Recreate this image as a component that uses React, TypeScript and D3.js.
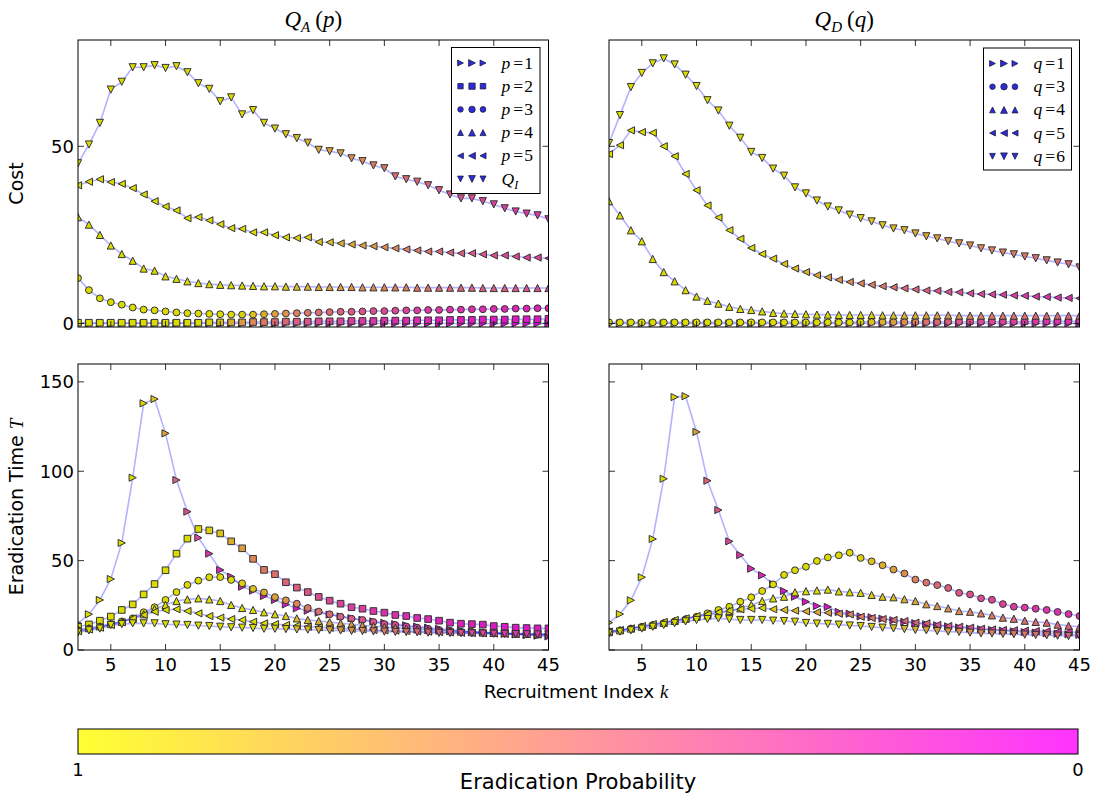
import React from "react";
import * as d3 from "d3";

// ---------- data ----------
const K = [2, 3, 4, 5, 6, 7, 8, 9, 10, 11, 12, 13, 14, 15, 16, 17, 18, 19, 20, 21, 22, 23, 24, 25, 26, 27, 28, 29, 30, 31, 32, 33, 34, 35, 36, 37, 38, 39, 40, 41, 42, 43, 44, 45];
const X_TICKS = [5, 10, 15, 20, 25, 30, 35, 40, 45];
const COST_TICKS = [0, 50];
const TIME_TICKS = [0, 50, 100, 150];

// Q_A(p) cost
const costP1 = [0, 0, 0, 0, 0, 0, 0, 0, 0, 0, 0, 0, 0, 0, 0, 0, 0, 0, 0, 0, 0, 0, 0, 0, 0, 0, 0, 0, 0, 0, 0, 0, 0, 0, 0, 0, 0, 0, 0, 0, 0, 0, 0, 0];
const costP2 = [0.2, 0.2, 0.2, 0.2, 0.2, 0.2, 0.2, 0.2, 0.2, 0.2, 0.2, 0.2, 0.3, 0.3, 0.3, 0.3, 0.4, 0.4, 0.4, 0.5, 0.5, 0.5, 0.6, 0.6, 0.6, 0.7, 0.7, 0.7, 0.8, 0.8, 0.8, 0.9, 0.9, 0.9, 1.0, 1.0, 1.0, 1.1, 1.1, 1.1, 1.2, 1.2, 1.2, 1.3];
const costP3 = [12.8, 9.4, 7.1, 6.0, 5.3, 4.5, 3.9, 3.7, 3.4, 3.1, 2.9, 2.8, 2.7, 2.6, 2.5, 2.5, 2.5, 2.6, 2.7, 2.8, 2.9, 3.0, 3.1, 3.2, 3.3, 3.3, 3.4, 3.5, 3.5, 3.6, 3.7, 3.7, 3.8, 3.8, 3.9, 3.9, 4.0, 4.0, 4.1, 4.1, 4.2, 4.2, 4.3, 4.3];
const costP4 = [30.0, 27.9, 25.0, 22.0, 19.6, 17.7, 15.5, 14.9, 13.3, 12.6, 11.9, 11.4, 11.1, 10.9, 10.8, 10.7, 10.6, 10.5, 10.5, 10.4, 10.4, 10.4, 10.3, 10.3, 10.3, 10.3, 10.2, 10.2, 10.2, 10.2, 10.2, 10.1, 10.1, 10.1, 10.1, 10.1, 10.1, 10.0, 10.0, 10.0, 10.0, 10.0, 10.0, 10.0];
const costP5 = [39.0, 40.0, 40.7, 39.9, 39.4, 38.2, 36.4, 34.5, 33.0, 31.9, 29.7, 30.0, 29.1, 28.0, 26.9, 26.7, 25.7, 25.7, 24.9, 24.3, 24.1, 24.3, 23.0, 22.9, 22.6, 22.3, 22.0, 21.8, 21.5, 21.2, 20.9, 20.6, 20.3, 20.3, 20.0, 19.8, 19.8, 19.5, 19.2, 19.2, 18.9, 18.6, 18.6, 18.4];
const costQI = [45.2, 50.5, 56.6, 66.0, 68.2, 72.3, 72.3, 72.9, 72.1, 72.6, 70.9, 67.8, 66.2, 62.7, 63.8, 59.0, 60.2, 56.6, 55.0, 53.4, 52.3, 51.0, 49.0, 48.6, 48.0, 46.6, 45.8, 44.6, 43.8, 41.5, 40.7, 40.0, 39.0, 37.6, 36.4, 35.3, 35.3, 34.5, 33.6, 32.5, 31.6, 31.0, 30.5, 29.4];

// Q_D(q) cost
const costQ1 = [0, 0, 0, 0, 0, 0, 0, 0, 0, 0, 0, 0, 0, 0, 0, 0, 0, 0, 0, 0, 0, 0, 0, 0, 0, 0, 0, 0, 0, 0, 0, 0, 0, 0, 0, 0, 0, 0, 0, 0, 0, 0, 0, 0];
const costQ3 = [0.3, 0.3, 0.3, 0.3, 0.3, 0.3, 0.3, 0.3, 0.3, 0.3, 0.3, 0.3, 0.3, 0.3, 0.3, 0.3, 0.3, 0.3, 0.3, 0.3, 0.3, 0.3, 0.3, 0.4, 0.4, 0.4, 0.4, 0.4, 0.4, 0.4, 0.4, 0.5, 0.5, 0.5, 0.5, 0.5, 0.5, 0.5, 0.5, 0.6, 0.6, 0.6, 0.6, 0.6];
const costQ4 = [34.5, 30.5, 26.3, 23.2, 18.2, 14.5, 11.9, 9.4, 7.6, 6.4, 5.6, 4.7, 4.1, 3.8, 3.4, 3.0, 2.8, 2.7, 2.6, 2.5, 2.5, 2.4, 2.4, 2.4, 2.4, 2.3, 2.3, 2.3, 2.3, 2.3, 2.3, 2.3, 2.2, 2.2, 2.2, 2.2, 2.2, 2.2, 2.2, 2.2, 2.2, 2.2, 2.2, 2.2];
const costQ5 = [47.8, 50.3, 54.5, 54.0, 53.8, 50.0, 47.2, 42.2, 37.6, 33.3, 29.9, 26.3, 23.9, 21.3, 19.6, 18.3, 16.8, 15.5, 14.5, 13.6, 13.0, 12.3, 11.7, 11.3, 10.9, 10.5, 10.2, 9.9, 9.6, 9.3, 9.2, 8.9, 8.8, 8.5, 8.3, 8.2, 8.1, 7.9, 7.8, 7.6, 7.5, 7.3, 7.2, 7.1];
const costQ6 = [50.9, 58.8, 66.7, 70.7, 73.4, 74.8, 73.1, 70.2, 67.0, 63.0, 60.1, 55.8, 52.4, 48.4, 46.7, 43.7, 41.7, 38.4, 36.7, 34.7, 33.0, 31.9, 30.7, 29.7, 28.8, 27.7, 26.8, 26.3, 25.4, 24.6, 24.0, 23.2, 22.6, 22.0, 21.2, 20.6, 20.0, 19.5, 18.9, 18.4, 17.8, 17.2, 16.7, 15.8];

// Q_A(p) eradication time
const timeP1 = [14.9, 20.0, 28.0, 39.7, 59.9, 96.4, 138.0, 140.4, 121.2, 95.1, 77.4, 62.8, 53.9, 44.8, 41.0, 35.4, 33.2, 30.2, 28.0, 25.5, 23.3, 22.0, 20.9, 19.8, 18.8, 17.8, 16.9, 16.0, 15.2, 14.5, 13.8, 13.1, 12.5, 11.9, 11.3, 10.8, 10.3, 9.9, 9.5, 9.1, 8.7, 8.3, 8.0, 7.6];
const timeP2 = [13.0, 14.3, 16.4, 18.7, 22.4, 25.5, 31.1, 36.9, 44.6, 53.9, 62.3, 67.7, 66.9, 65.2, 60.8, 56.9, 51.0, 44.8, 42.4, 37.9, 34.9, 32.4, 29.7, 27.6, 25.9, 23.9, 23.1, 21.8, 20.9, 19.6, 19.0, 17.9, 17.3, 16.4, 15.3, 14.7, 14.5, 14.2, 13.4, 13.0, 12.5, 12.3, 12.1, 12.1];
const timeP3 = [11.0, 12.0, 13.0, 14.5, 16.0, 17.7, 21.1, 23.9, 28.0, 32.4, 36.4, 38.8, 40.7, 40.8, 39.2, 37.3, 34.2, 32.2, 29.6, 27.8, 25.9, 23.5, 21.5, 20.0, 18.6, 17.5, 16.8, 15.7, 14.5, 14.0, 13.2, 12.5, 11.9, 11.2, 10.8, 10.3, 10.1, 9.7, 9.5, 9.3, 9.0, 8.8, 8.6, 8.6];
const timeP4 = [11.3, 12.2, 13.2, 14.5, 15.8, 17.5, 20.0, 22.9, 25.2, 27.4, 28.3, 28.9, 28.3, 27.4, 25.2, 23.5, 22.4, 21.1, 20.0, 19.0, 17.7, 16.8, 16.2, 15.6, 15.0, 14.4, 13.8, 13.3, 12.8, 12.4, 12.0, 11.6, 11.2, 10.9, 10.6, 10.3, 10.0, 9.8, 9.6, 9.4, 9.2, 9.0, 8.9, 8.8];
const timeP5 = [10.5, 11.5, 12.5, 14.0, 15.5, 17.7, 19.6, 21.4, 22.4, 22.8, 21.8, 20.5, 19.0, 18.1, 17.3, 16.8, 15.8, 14.9, 14.5, 14.0, 13.6, 13.0, 12.7, 12.4, 12.1, 11.8, 11.5, 11.2, 11.0, 10.8, 10.6, 10.4, 10.2, 10.0, 9.8, 9.6, 9.5, 9.3, 9.2, 9.0, 8.9, 8.8, 8.7, 8.6];
const timeQI = [10.0, 11.0, 12.0, 14.0, 14.5, 14.9, 14.9, 14.9, 14.4, 14.2, 14.0, 13.6, 13.4, 13.0, 12.7, 12.5, 12.3, 11.9, 11.9, 11.7, 11.5, 11.4, 11.2, 11.0, 10.9, 10.7, 10.6, 10.4, 10.3, 10.1, 10.0, 9.9, 9.7, 9.6, 9.5, 9.4, 9.3, 9.2, 9.1, 9.0, 8.9, 8.8, 8.7, 8.6];

// Q_D(q) eradication time
const timeQ1 = [15.3, 20.1, 27.8, 40.7, 62.1, 95.8, 141.5, 142.0, 122.0, 94.7, 78.3, 60.8, 53.1, 45.5, 41.8, 36.9, 33.0, 29.8, 27.0, 24.6, 24.1, 21.3, 20.3, 18.8, 18.3, 17.5, 16.6, 15.8, 15.0, 14.4, 13.8, 13.2, 12.6, 12.0, 11.6, 11.2, 10.8, 10.4, 10.0, 9.7, 9.4, 9.1, 8.8, 8.5];
const timeQ3 = [10.5, 11.0, 12.0, 13.0, 14.0, 15.0, 16.0, 17.2, 18.6, 20.5, 22.4, 24.2, 27.0, 29.5, 33.0, 36.7, 42.0, 44.6, 46.6, 49.8, 51.8, 53.0, 54.4, 51.5, 49.6, 47.4, 45.0, 42.8, 39.4, 37.7, 36.3, 34.7, 32.0, 31.1, 28.9, 28.1, 25.7, 24.2, 23.7, 23.1, 22.4, 21.3, 20.1, 19.0];
const timeQ4 = [10.0, 11.0, 12.0, 13.0, 14.0, 15.2, 16.3, 17.5, 18.6, 19.4, 20.5, 21.8, 23.3, 25.2, 27.4, 28.9, 29.8, 32.3, 32.9, 33.3, 33.8, 32.8, 32.3, 32.0, 30.8, 29.8, 29.5, 28.4, 27.4, 25.6, 24.6, 23.3, 21.8, 21.4, 20.5, 19.4, 18.1, 17.5, 16.4, 15.7, 15.3, 14.2, 13.6, 13.0];
const timeQ5 = [10.3, 11.2, 12.1, 13.4, 14.5, 15.7, 16.8, 17.7, 19.0, 20.0, 21.1, 22.0, 22.8, 23.1, 23.5, 22.8, 22.4, 22.0, 21.6, 21.1, 20.8, 20.3, 19.9, 18.6, 17.9, 17.3, 16.8, 16.2, 15.3, 14.9, 14.0, 13.4, 13.0, 12.5, 11.9, 11.5, 11.2, 11.0, 10.8, 10.6, 10.4, 10.2, 10.0, 9.9];
const timeQ6 = [9.5, 10.3, 11.0, 12.0, 13.0, 14.0, 15.0, 16.0, 16.8, 17.3, 17.7, 17.2, 16.8, 16.8, 16.8, 16.4, 16.2, 15.8, 15.1, 14.8, 14.6, 14.2, 13.7, 13.4, 12.9, 12.5, 12.1, 11.7, 11.2, 11.0, 10.6, 10.3, 10.1, 9.7, 9.3, 9.2, 9.0, 8.8, 8.6, 8.4, 8.2, 8.0, 7.8, 7.8];

// eradication probability (marker colour)
const probP1 = [1, 1, 1, 1, 1, 1, 0.97, 0.9, 0.75, 0.45, 0.38, 0.32, 0.24, 0.18, 0.15, 0.12, 0.1, 0.09, 0.08, 0.08, 0.07, 0.07, 0.06, 0.06, 0.06, 0.05, 0.05, 0.05, 0.05, 0.04, 0.04, 0.04, 0.04, 0.04, 0.03, 0.03, 0.03, 0.03, 0.03, 0.03, 0.02, 0.02, 0.02, 0.02];
const probP2 = [1, 1, 1, 1, 1, 1, 1, 1, 1, 1, 1, 1, 0.95, 0.88, 0.78, 0.7, 0.62, 0.55, 0.5, 0.46, 0.42, 0.38, 0.35, 0.32, 0.3, 0.28, 0.26, 0.24, 0.22, 0.21, 0.2, 0.19, 0.18, 0.17, 0.16, 0.15, 0.14, 0.13, 0.12, 0.12, 0.11, 0.1, 0.1, 0.09];
const probP3 = [1, 1, 1, 1, 1, 1, 1, 1, 1, 1, 1, 1, 1, 1, 1, 0.95, 0.88, 0.8, 0.73, 0.67, 0.6, 0.55, 0.5, 0.47, 0.44, 0.41, 0.38, 0.36, 0.34, 0.32, 0.3, 0.28, 0.27, 0.26, 0.24, 0.23, 0.22, 0.21, 0.2, 0.19, 0.18, 0.17, 0.16, 0.15];
const probP4 = [1, 1, 1, 1, 1, 1, 1, 1, 1, 1, 1, 1, 1, 1, 1, 1, 1, 1, 0.95, 0.9, 0.86, 0.82, 0.78, 0.75, 0.72, 0.69, 0.66, 0.63, 0.6, 0.58, 0.56, 0.54, 0.52, 0.5, 0.48, 0.46, 0.45, 0.43, 0.42, 0.4, 0.39, 0.37, 0.36, 0.35];
const probP5 = [1, 1, 1, 1, 1, 1, 1, 1, 1, 1, 1, 1, 1, 1, 1, 1, 1, 1, 1, 1, 0.97, 0.94, 0.9, 0.86, 0.82, 0.78, 0.74, 0.7, 0.66, 0.62, 0.58, 0.55, 0.52, 0.49, 0.46, 0.43, 0.41, 0.39, 0.37, 0.35, 0.33, 0.31, 0.3, 0.28];
const probQI = [1, 1, 1, 1, 1, 1, 1, 1, 1, 1, 1, 1, 1, 1, 1, 1, 1, 0.97, 0.94, 0.9, 0.86, 0.82, 0.78, 0.74, 0.7, 0.66, 0.62, 0.58, 0.55, 0.52, 0.49, 0.46, 0.43, 0.4, 0.38, 0.36, 0.34, 0.32, 0.3, 0.28, 0.27, 0.26, 0.24, 0.23];
const probQ1 = probP1;
const probQ3 = [1, 1, 1, 1, 1, 1, 1, 1, 1, 1, 1, 1, 1, 1, 1, 1, 1, 1, 1, 1, 1, 1, 1, 0.95, 0.88, 0.8, 0.72, 0.65, 0.58, 0.52, 0.47, 0.43, 0.4, 0.37, 0.34, 0.32, 0.3, 0.28, 0.26, 0.25, 0.24, 0.23, 0.22, 0.21];
const probQ4 = [1, 1, 1, 1, 1, 1, 1, 1, 1, 1, 1, 1, 1, 1, 1, 1, 1, 1, 1, 1, 1, 1, 1, 0.97, 0.93, 0.89, 0.85, 0.81, 0.77, 0.73, 0.7, 0.67, 0.64, 0.61, 0.58, 0.56, 0.54, 0.52, 0.5, 0.48, 0.47, 0.46, 0.45, 0.44];
const probQ5 = [1, 1, 1, 1, 1, 1, 1, 1, 1, 1, 1, 1, 1, 1, 1, 0.95, 0.9, 0.85, 0.8, 0.76, 0.72, 0.68, 0.64, 0.6, 0.57, 0.54, 0.51, 0.48, 0.45, 0.42, 0.4, 0.38, 0.36, 0.34, 0.32, 0.3, 0.28, 0.27, 0.26, 0.25, 0.24, 0.23, 0.22, 0.21];
const probQ6 = [1, 1, 1, 1, 1, 1, 1, 1, 1, 1, 1, 1, 1, 1, 1, 1, 1, 1, 1, 1, 1, 1, 0.97, 0.94, 0.91, 0.88, 0.85, 0.82, 0.79, 0.76, 0.73, 0.7, 0.67, 0.65, 0.62, 0.6, 0.58, 0.56, 0.54, 0.52, 0.5, 0.48, 0.46, 0.44];

type Marker = ">" | "s" | "o" | "^" | "<" | "v";
type S = { key: string; marker: Marker; sym: string; val: string; cost: number[]; time: number[]; prob: number[] };

const seriesA: S[] = [
  { key: "p1", marker: ">", sym: "p", val: "1", cost: costP1, time: timeP1, prob: probP1 },
  { key: "p2", marker: "s", sym: "p", val: "2", cost: costP2, time: timeP2, prob: probP2 },
  { key: "p3", marker: "o", sym: "p", val: "3", cost: costP3, time: timeP3, prob: probP3 },
  { key: "p4", marker: "^", sym: "p", val: "4", cost: costP4, time: timeP4, prob: probP4 },
  { key: "p5", marker: "<", sym: "p", val: "5", cost: costP5, time: timeP5, prob: probP5 },
  { key: "QI", marker: "v", sym: "Q", val: "", cost: costQI, time: timeQI, prob: probQI },
];
const seriesD: S[] = [
  { key: "q1", marker: ">", sym: "q", val: "1", cost: costQ1, time: timeQ1, prob: probQ1 },
  { key: "q3", marker: "o", sym: "q", val: "3", cost: costQ3, time: timeQ3, prob: probQ3 },
  { key: "q4", marker: "^", sym: "q", val: "4", cost: costQ4, time: timeQ4, prob: probQ4 },
  { key: "q5", marker: "<", sym: "q", val: "5", cost: costQ5, time: timeQ5, prob: probQ5 },
  { key: "q6", marker: "v", sym: "q", val: "6", cost: costQ6, time: timeQ6, prob: probQ6 },
];

// ---------- helpers ----------
const spring = (p: number) => `rgb(255,${Math.round(255 * p)},${Math.round(255 * (1 - p))})`;
const springMuted = (p: number) => {
  const f = 0.86;
  return `rgb(${Math.round(255 * f)},${Math.round(255 * p * f)},${Math.round(255 * (1 - p) * f)})`;
};
const FONT = "'DejaVu Sans', sans-serif";
const SERIF = "'Liberation Serif', 'DejaVu Serif', serif";

function markerPath(m: Marker, x: number, y: number, h: number): string {
  switch (m) {
    case "^": return `M${x},${y - h}L${x - h},${y + h}L${x + h},${y + h}Z`;
    case "v": return `M${x},${y + h}L${x - h},${y - h}L${x + h},${y - h}Z`;
    case ">": return `M${x + h},${y}L${x - h},${y - h}L${x - h},${y + h}Z`;
    case "<": return `M${x - h},${y}L${x + h},${y - h}L${x + h},${y + h}Z`;
    case "s": { const s = h * 0.92; return `M${x - s},${y - s}H${x + s}V${y + s}H${x - s}Z`; }
    case "o": { const r = h * 0.95; return `M${x - r},${y}a${r},${r} 0 1,0 ${2 * r},0a${r},${r} 0 1,0 ${-2 * r},0Z`; }
  }
}

const LX = [78, 548.5];
const RX = [609, 1079.5];
const TY = [40, 327];
const BY = [364, 650];

type PanelProps = {
  id: string; xr: number[]; yr: number[]; domain: [number, number]; yTicks: number[];
  series: S[]; field: "cost" | "time"; showX: boolean; showY: boolean;
};

function Panel({ id, xr, yr, domain, yTicks, series, field, showX, showY }: PanelProps) {
  const x = d3.scaleLinear().domain([2, 45]).range(xr);
  const y = d3.scaleLinear().domain(domain).range([yr[1], yr[0]]);
  const line = d3.line<number>().x((_, i) => x(K[i])).y((d) => y(d));
  const tl = 6;
  return (
    <g>
      <defs>
        <clipPath id={id}><rect x={xr[0]} y={yr[0]} width={xr[1] - xr[0]} height={yr[1] - yr[0]} /></clipPath>
      </defs>
      <g clipPath={`url(#${id})`}>
        {series.map((s) => (
          <path key={s.key} d={line(s[field]) || ""} fill="none" stroke="rgb(0,0,255)" strokeOpacity={0.3} strokeWidth={1.6} />
        ))}
        {series.map((s) => (
          <g key={s.key + "m"}>
            {s[field].map((v, i) => (
              <path key={i} d={markerPath(s.marker, x(K[i]), y(v), 3.6)} fill={springMuted(s.prob[i])} stroke="#333" strokeWidth={1} />
            ))}
          </g>
        ))}
      </g>
      {X_TICKS.map((t) => (
        <g key={"xt" + t}>
          <line x1={x(t)} x2={x(t)} y1={yr[1]} y2={yr[1] - tl} stroke="#000" strokeWidth={0.8} />
          <line x1={x(t)} x2={x(t)} y1={yr[0]} y2={yr[0] + tl} stroke="#000" strokeWidth={0.8} />
          {showX && (
            <text x={x(t)} y={yr[1] + 21} textAnchor="middle" fontFamily={FONT} fontSize={18}>{t}</text>
          )}
        </g>
      ))}
      {yTicks.map((t) => (
        <g key={"yt" + t}>
          <line x1={xr[0]} x2={xr[0] + tl} y1={y(t)} y2={y(t)} stroke="#000" strokeWidth={0.8} />
          <line x1={xr[1]} x2={xr[1] - tl} y1={y(t)} y2={y(t)} stroke="#000" strokeWidth={0.8} />
          {showY && (
            <text x={xr[0] - 4} y={y(t)} dy="0.36em" textAnchor="end" fontFamily={FONT} fontSize={18}>{t}</text>
          )}
        </g>
      ))}
      <rect x={xr[0]} y={yr[0]} width={xr[1] - xr[0]} height={yr[1] - yr[0]} fill="none" stroke="#000" strokeWidth={1} />
    </g>
  );
}

function Legend({ x0, y0, w, h, series }: { x0: number; y0: number; w: number; h: number; series: S[] }) {
  const step = 23.2;
  return (
    <g>
      <rect x={x0} y={y0} width={w} height={h} fill="#fff" stroke="#000" strokeWidth={1} />
      {series.map((s, i) => {
        const cy = y0 + 15.5 + i * step;
        const xs = [x0 + 9, x0 + 20.5, x0 + 31.5];
        const hs = [2.9, 3.4, 3.0];
        return (
          <g key={s.key}>
            {xs.map((mx, j) => (
              <path key={j} d={markerPath(s.marker, mx, cy, hs[j])} fill="rgb(45,45,215)" stroke="#1a1a40" strokeWidth={0.8} />
            ))}
            <text x={x0 + 50} y={cy + 5.5} fontFamily={SERIF} fontSize={17.5}>
              {s.key === "QI" ? (
                <>
                  <tspan fontStyle="italic">Q</tspan>
                  <tspan fontStyle="italic" fontSize={12} dy={4}>I</tspan>
                </>
              ) : (
                <>
                  <tspan fontStyle="italic">{s.sym}</tspan>
                  <tspan dx={3}>=</tspan>
                  <tspan dx={1}>{s.val}</tspan>
                </>
              )}
            </text>
          </g>
        );
      })}
    </g>
  );
}

function Title({ cx, letter, arg }: { cx: number; letter: string; arg: string }) {
  return (
    <text x={cx} y={27} textAnchor="middle" fontFamily={SERIF} fontSize={23}>
      <tspan fontStyle="italic">Q</tspan>
      <tspan fontStyle="italic" fontSize={15} dy={5}>{letter}</tspan>
      <tspan dy={-5} dx={5}>(</tspan>
      <tspan fontStyle="italic">{arg}</tspan>
      <tspan>)</tspan>
    </text>
  );
}

export default function App() {
  const cbX = [78, 1078];
  const cbY = [729, 754];
  const stops = [1, 0.9, 0.8, 0.7, 0.6, 0.5, 0.4, 0.3, 0.2, 0.1, 0];
  const cb = d3.scaleLinear().domain([1, 0]).range(cbX);
  return (
    <svg width={1097} height={799} style={{ display: "block", position: "absolute", left: 0, top: 0 }}>
      <rect width={1097} height={799} fill="#fff" />
      <Title cx={(LX[0] + LX[1]) / 2} letter="A" arg="p" />
      <Title cx={(RX[0] + RX[1]) / 2} letter="D" arg="q" />

      <Panel id="c1" xr={LX} yr={TY} domain={[-1, 80]} yTicks={COST_TICKS} series={seriesA} field="cost" showX={false} showY={true} />
      <Panel id="c2" xr={RX} yr={TY} domain={[-1, 80]} yTicks={COST_TICKS} series={seriesD} field="cost" showX={false} showY={false} />
      <Panel id="c3" xr={LX} yr={BY} domain={[0, 160]} yTicks={TIME_TICKS} series={seriesA} field="time" showX={true} showY={true} />
      <Panel id="c4" xr={RX} yr={BY} domain={[0, 160]} yTicks={TIME_TICKS} series={seriesD} field="time" showX={true} showY={false} />

      <Legend x0={451.5} y0={47.5} w={88.5} h={146} series={seriesA} />
      <Legend x0={983.5} y0={48} w={88} h={122} series={seriesD} />

      <text transform="translate(23,183.5) rotate(-90)" textAnchor="middle" fontFamily={FONT} fontSize={19}>Cost</text>
      <text transform="translate(23,507) rotate(-90)" textAnchor="middle" fontFamily={FONT} fontSize={19}>
        Eradication Time <tspan fontFamily={SERIF} fontStyle="italic">T</tspan>
      </text>
      <text x={576} y={698} textAnchor="middle" fontFamily={FONT} fontSize={18.5}>
        Recruitment Index <tspan fontFamily={SERIF} fontStyle="italic">k</tspan>
      </text>

      <defs>
        <linearGradient id="cbg" x1="0" x2="1" y1="0" y2="0">
          {stops.map((p) => (
            <stop key={p} offset={(cb(p) - cbX[0]) / (cbX[1] - cbX[0])} stopColor={spring(p)} stopOpacity={0.8} />
          ))}
        </linearGradient>
      </defs>
      <rect x={cbX[0]} y={cbY[0]} width={cbX[1] - cbX[0]} height={cbY[1] - cbY[0]} fill="url(#cbg)" stroke="#000" strokeWidth={1} />
      <text x={cb(1)} y={776} textAnchor="middle" fontFamily={FONT} fontSize={18}>1</text>
      <text x={cb(0)} y={776} textAnchor="middle" fontFamily={FONT} fontSize={18}>0</text>
      <text x={578} y={789} textAnchor="middle" fontFamily={FONT} fontSize={21}>Eradication Probability</text>
    </svg>
  );
}
